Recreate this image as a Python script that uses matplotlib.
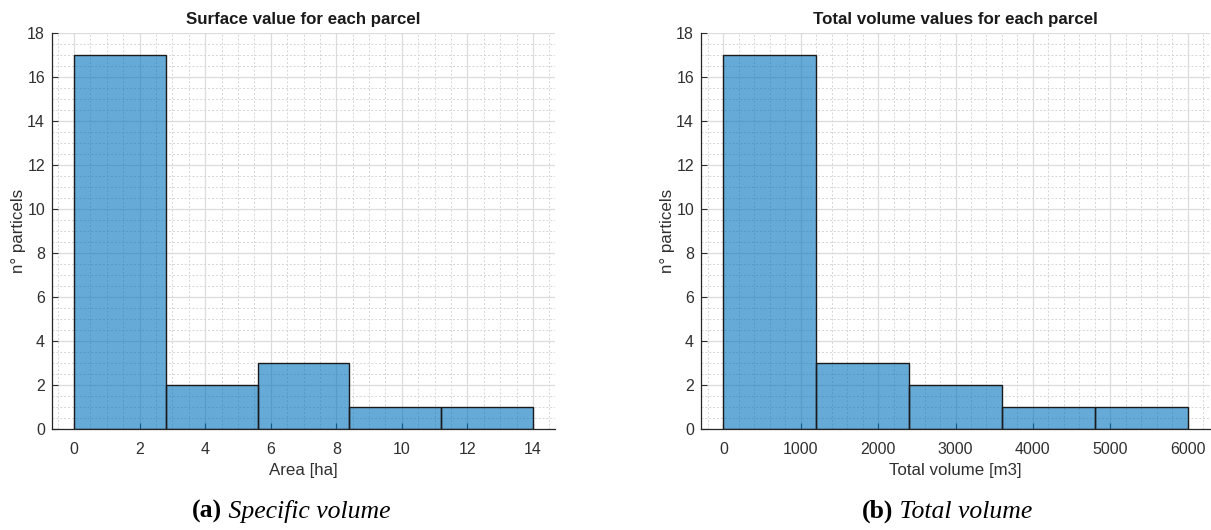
import numpy as np
import matplotlib
matplotlib.use("Agg")
import matplotlib.pyplot as plt
from matplotlib.ticker import MultipleLocator

# histogram data: bin edges and counts per bin
area_edges = [0, 2.8, 5.6, 8.4, 11.2, 14]
area_counts = [17, 2, 3, 1, 1]
volume_edges = [0, 1200, 2400, 3600, 4800, 6000]
volume_counts = [17, 3, 2, 1, 1]

titles = ["Surface value for each parcel", "Total volume values for each parcel"]
xlabels = ["Area [ha]", "Total volume [m3]"]
captions = [("(a)", "Specific volume"), ("(b)", "Total volume")]

plt.rcParams['font.family'] = ['Liberation Sans', 'DejaVu Sans']
grey = '#303030'
face = '#0072BD'

W, H = 1211, 530
fig = plt.figure(figsize=(W / 100, H / 100), dpi=100)
ax1 = fig.add_axes([52 / W, 1 - 429 / H, (555 - 52) / W, (429 - 33) / H])
ax2 = fig.add_axes([701 / W, 1 - 429 / H, (1210 - 701) / W, (429 - 33) / H])


def draw_hist(ax, edges, counts, title, xlabel, xlim, xmajor, xminor):
    edges = np.array(edges)
    ax.bar(edges[:-1], counts, width=np.diff(edges), align='edge',
           color=face, alpha=0.6, edgecolor='none', zorder=1)
    ax.bar(edges[:-1], counts, width=np.diff(edges), align='edge',
           fill=False, edgecolor='#1a1a1a', linewidth=1.0, zorder=3)
    ax.set_xlim(*xlim)
    ax.set_ylim(0, 18)
    ax.xaxis.set_major_locator(MultipleLocator(xmajor))
    ax.xaxis.set_minor_locator(MultipleLocator(xminor))
    ax.yaxis.set_major_locator(MultipleLocator(2))
    ax.yaxis.set_minor_locator(MultipleLocator(0.5))
    ax.set_axisbelow(True)
    ax.grid(which='major', color='#dcdcdc', linewidth=0.9, linestyle='-')
    ax.grid(which='minor', color='#d5d5d5', linewidth=0.7, linestyle=(0, (2, 2)))
    for s in ['top', 'right']:
        ax.spines[s].set_visible(False)
    for s in ['left', 'bottom']:
        ax.spines[s].set_color('#262626')
        ax.spines[s].set_linewidth(0.9)
    ax.tick_params(which='both', direction='in', colors=grey, labelsize=11.5)
    ax.tick_params(which='major', length=4)
    ax.tick_params(which='minor', length=0)
    ax.tick_params(axis='x', pad=9)
    ax.tick_params(axis='y', pad=5)
    ax.set_title(title, fontsize=12.2, fontweight='bold', color='#1a1a1a', pad=6.5)
    ax.set_xlabel(xlabel, fontsize=12.2, color=grey, labelpad=5)
    ax.set_ylabel("n° particels", fontsize=12.2, color=grey, labelpad=1)


draw_hist(ax1, area_edges, area_counts, titles[0], xlabels[0],
          (-0.67, 14.67), 2, 0.5)
draw_hist(ax2, volume_edges, volume_counts, titles[1], xlabels[1],
          (-290, 6290), 1000, 200)

# sub-figure captions: bold tag followed by italic text, centred as one line
renderer = fig.canvas.get_renderer()
for cx, (tag, text) in zip([291 / W, 947 / W], captions):
    t1 = fig.text(0, 0.023, tag, ha='left', va='baseline',
                  family='Liberation Serif', fontweight='bold', fontsize=18.5)
    t2 = fig.text(0, 0.023, " " + text, ha='left', va='baseline',
                  family='Liberation Serif', style='italic', fontsize=18.5)
    w1 = t1.get_window_extent(renderer).width / W
    w2 = t2.get_window_extent(renderer).width / W
    x0 = cx - (w1 + w2) / 2
    t1.set_x(x0)
    t2.set_x(x0 + w1)

fig.savefig("out.png", dpi=100)
